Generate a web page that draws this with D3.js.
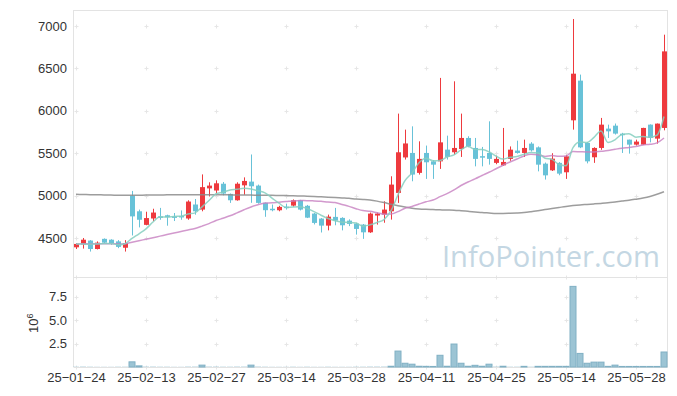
<!DOCTYPE html>
<html>
<head>
<meta charset="utf-8">
<script src="https://cdn.jsdelivr.net/npm/d3@7"></script>
<style>
  body { margin: 0; background: #fff; }
  svg text { font-family: "Liberation Sans", Arial, sans-serif; }
</style>
</head>
<body>
<svg id="chart" width="677" height="396"></svg>
<script>
// x ticks (every 10 trading days)
const tickIdx = [0, 10, 20, 30, 40, 50, 60, 70, 80];
const tickLabels = ["25\u221201\u221224", "25\u221202\u221213", "25\u221202\u221227", "25\u221203\u221214",
  "25\u221203\u221228", "25\u221204\u221211", "25\u221204\u221225", "25\u221205\u221214", "25\u221205\u221228"];

const priceTicks = [4500, 5000, 5500, 6000, 6500, 7000];
const volTicks = [2.5, 5, 7.5];

// daily candles
const opens = [4390,4425,4470,4370,4490,4480,4460,4385,5000,4815,
  4655,4730,4755,4768,4755,4760,4730,4895,4835,5085,
  5060,5140,5020,4945,5121,5165,5118,4915,4845,4827,
  4870,4882,4945,4880,4788,4729,4646,4749,4737,4705,
  4670,4658,4567,4765,4776,4815,5032,5450,5503,5268,
  5503,5404,5404,5542,5511,5550,5680,5562,5465,5503,
  5386,5357,5433,5531,5503,5613,5569,5377,5298,5386,
  5275,5888,6356,5621,5452,5562,5790,5825,5730,5660,
  5601,5601,5837,5672,5798];
const highs = [4440,4500,4475,4460,4495,4485,4475,4475,5055,4835,
  4810,4845,4855,4775,4795,4825,4945,4960,5250,5157,
  5180,5160,5025,5157,5215,5485,5130,4918,4895,4880,
  4905,4955,4950,4890,4795,4735,4776,4855,4745,4720,
  4680,4665,4800,4800,4933,5228,5967,5778,5817,5640,
  5590,5420,6388,5707,6348,5967,5700,5680,5574,5876,
  5470,5798,5580,5648,5660,5630,5580,5390,5500,5395,
  5480,7083,6427,5630,5570,5916,5837,5850,5740,5660,
  5660,5800,5840,5850,6898];
const lows = [4370,4375,4340,4365,4440,4420,4380,4340,4530,4625,
  4650,4700,4715,4645,4700,4715,4715,4775,4815,4990,
  5025,5003,4914,4940,5010,4915,4905,4750,4815,4815,
  4835,4870,4825,4735,4660,4565,4590,4650,4590,4640,
  4540,4490,4560,4658,4680,4717,4914,5425,5169,5248,
  5197,5197,5315,5425,5483,5456,5570,5345,5345,5365,
  5370,5350,5410,5495,5456,5520,5286,5189,5290,5240,
  5197,5778,5560,5380,5386,5540,5680,5720,5503,5495,
  5590,5598,5628,5613,5770];
const closes = [4430,4480,4370,4445,4445,4440,4395,4440,4755,4715,
  4735,4800,4745,4745,4745,4748,4930,4815,5100,5118,
  5145,5024,4945,5140,5173,5110,4914,4828,4832,4867,
  4860,4945,4835,4740,4678,4646,4752,4705,4650,4666,
  4607,4567,4788,4788,4835,5130,5511,5615,5248,5433,
  5393,5365,5628,5456,5562,5680,5581,5433,5456,5433,
  5433,5397,5542,5503,5562,5534,5365,5239,5436,5259,
  5463,6438,5569,5404,5562,5837,5758,5731,5720,5601,
  5637,5798,5680,5849,6701];
// volume, millions of shares
const volumes = [0.03,0.04,0.03,0.02,0.02,0.02,0.03,0.03,0.55,0.12,
  0.04,0.04,0.03,0.03,0.02,0.02,0.04,0.04,0.2,0.04,
  0.04,0.03,0.03,0.04,0.04,0.2,0.04,0.03,0.02,0.02,
  0.02,0.03,0.02,0.03,0.02,0.02,0.03,0.02,0.02,0.02,
  0.03,0.03,0.04,0.04,0.04,0.08,1.7,0.4,0.3,0.08,
  0.07,0.06,1.25,0.08,2.45,0.4,0.08,0.18,0.08,0.3,
  0.04,0.08,0.03,0.03,0.07,0.03,0.07,0.07,0.07,0.07,
  0.07,8.6,1.45,0.4,0.52,0.52,0.07,0.2,0.06,0.06,
  0.06,0.06,0.06,0.06,1.6];

// moving averages before enough closes exist
const ma5Lead = [4428, 4430, 4425, 4430];
const ma20Lead = [4430,4432,4430,4432,4432,4432,4430,4432,4450,4468,
  4486,4504,4522,4540,4558,4576,4594,4613,4640];
// 120-day average needs older history
const ma120 = [5015,5013,5011,5010,5008,5006,5005,5004,5004,5005,
  5006,5007,5008,5009,5010,5010,5010,5010,5010,5010,
  5010,5010,5009,5008,5007,5006,5005,5004,5003,5002,
  5000,4998,4996,4993,4990,4986,4982,4978,4973,4968,
  4960,4955,4948,4935,4918,4898,4880,4865,4852,4843,
  4838,4835,4832,4830,4828,4822,4815,4808,4800,4795,
  4790,4790,4792,4795,4800,4810,4822,4835,4848,4860,
  4872,4882,4890,4896,4902,4908,4915,4925,4935,4945,
  4958,4972,4990,5015,5045];

function movingAvg(n, lead) {
  return closes.map(function (c, i) {
    if (i < n - 1) return lead[i];
    return d3.mean(closes.slice(i - n + 1, i + 1));
  });
}
const ma5 = movingAvg(5, ma5Lead);
const ma20 = movingAvg(20, ma20Lead);

const plotL = 73.5, plotR = 667.5, plotT = 10, split = 277, plotB = 367;
const svg = d3.select("#chart");

const x = d3.scaleLinear().domain([-0.5, 84.5]).range([72.5, 667.5]);
const y = d3.scaleLinear().domain([4040, 7189]).range([split, plotT]);
const yv = d3.scaleLinear().domain([0, 9.6]).range([plotB, split]);

const red = "#ee3a3e", blue = "#68c2d8";

// watermark
const wm = svg.append("text")
  .attr("x", 442).attr("y", 267)
  .style("font-family", "'Open Sans', sans-serif")
  .style("font-size", "30px")
  .attr("fill", "#c4d7e3")
  .text("InfoPointer.com");
const w = wm.node().getComputedTextLength();
wm.style("font-size", (30 * 218 / w) + "px");

// grid crosses
const gridYs = priceTicks.map(y).concat(volTicks.map(yv), [split, plotB]);
const cross = svg.append("g").attr("stroke", "#e6e6e6").attr("stroke-width", 1);
tickIdx.forEach(function (t) {
  gridYs.forEach(function (gy) {
    const cx = Math.round(x(t)) + 0.5, cy = Math.round(gy) + 0.5;
    cross.append("line").attr("x1", cx - 2).attr("x2", cx + 2).attr("y1", cy).attr("y2", cy);
    cross.append("line").attr("x1", cx).attr("x2", cx).attr("y1", cy - 2).attr("y2", cy + 2);
  });
});

// frame
const frame = svg.append("g").attr("stroke", "#e3e3e3").attr("fill", "none");
frame.append("line").attr("x1", plotL).attr("x2", plotR).attr("y1", plotT + 0.5).attr("y2", plotT + 0.5);
frame.append("line").attr("x1", plotL).attr("x2", plotL).attr("y1", plotT).attr("y2", plotB);
frame.append("line").attr("x1", plotR).attr("x2", plotR).attr("y1", plotT).attr("y2", plotB);
frame.append("line").attr("x1", plotL).attr("x2", plotR).attr("y1", split + 0.5).attr("y2", split + 0.5);
frame.append("line").attr("x1", plotL).attr("x2", plotR).attr("y1", plotB + 0.5).attr("y2", plotB + 0.5);

// volume bars (the tiniest ones vanish into the baseline, as in the picture)
svg.append("g").selectAll("rect").data(volumes).enter().append("rect")
  .attr("x", function (d, i) { return x(i) - 3; })
  .attr("width", 6)
  .attr("y", function (d) { return yv(d); })
  .attr("height", function (d) { return plotB - yv(d); })
  .attr("fill", "#9cc4d4")
  .attr("stroke", function (d) { return d >= 0.05 ? "#80b0c4" : "none"; })
  .attr("stroke-width", 1);

// candles
const candles = svg.append("g").selectAll("g").data(closes).enter().append("g")
  .attr("fill", function (c, i) { return c >= opens[i] ? red : blue; })
  .attr("stroke", function (c, i) { return c >= opens[i] ? red : blue; });
candles.append("line")
  .attr("x1", function (c, i) { return Math.round(x(i)) + 0.5; })
  .attr("x2", function (c, i) { return Math.round(x(i)) + 0.5; })
  .attr("y1", function (c, i) { return y(highs[i]); })
  .attr("y2", function (c, i) { return y(lows[i]); });
candles.append("rect")
  .attr("stroke", "none")
  .attr("x", function (c, i) { return Math.round(x(i)) - 2; })
  .attr("width", 5)
  .attr("y", function (c, i) { return y(Math.max(c, opens[i])); })
  .attr("height", function (c, i) { return Math.max(1.5, Math.abs(y(c) - y(opens[i]))); });

// moving averages
const line = d3.line().x(function (d, i) { return x(i); }).y(function (d) { return y(d); })
  .curve(d3.curveMonotoneX);
svg.append("path").datum(ma120).attr("d", line).attr("fill", "none")
  .attr("stroke", "#8c8c8c").attr("stroke-width", 1.5).attr("opacity", 0.85);
svg.append("path").datum(ma20).attr("d", line).attr("fill", "none")
  .attr("stroke", "#c77fc0").attr("stroke-width", 1.5).attr("opacity", 0.8);
svg.append("path").datum(ma5).attr("d", line).attr("fill", "none")
  .attr("stroke", "#86cfc0").attr("stroke-width", 1.5).attr("opacity", 0.85);

// axes
const yAxis = svg.append("g").attr("transform", "translate(67,0)")
  .call(d3.axisLeft(y).tickValues(priceTicks).tickSize(0).tickPadding(0).tickFormat(d3.format("d")));
const vAxis = svg.append("g").attr("transform", "translate(67,0)")
  .call(d3.axisLeft(yv).tickValues(volTicks).tickSize(0).tickPadding(0).tickFormat(d3.format(".1f")));
const xAxis = svg.append("g").attr("transform", "translate(0," + (plotB + 2) + ")")
  .call(d3.axisBottom(x).tickValues(tickIdx).tickSize(0).tickPadding(4)
    .tickFormat(function (d, i) { return tickLabels[i]; }));
[yAxis, vAxis, xAxis].forEach(function (g) {
  g.select(".domain").remove();
  g.selectAll("text").attr("fill", "#333").style("font-size", "13px")
    .style("font-family", "'Liberation Sans', Arial, sans-serif");
});

// exponent label
const ex = svg.append("text").attr("transform", "translate(38,333) rotate(-90)")
  .attr("fill", "#333").style("font-size", "13px");
ex.append("tspan").text("10");
ex.append("tspan").attr("dy", -5).style("font-size", "9px").text("6");
</script>
</body>
</html>
